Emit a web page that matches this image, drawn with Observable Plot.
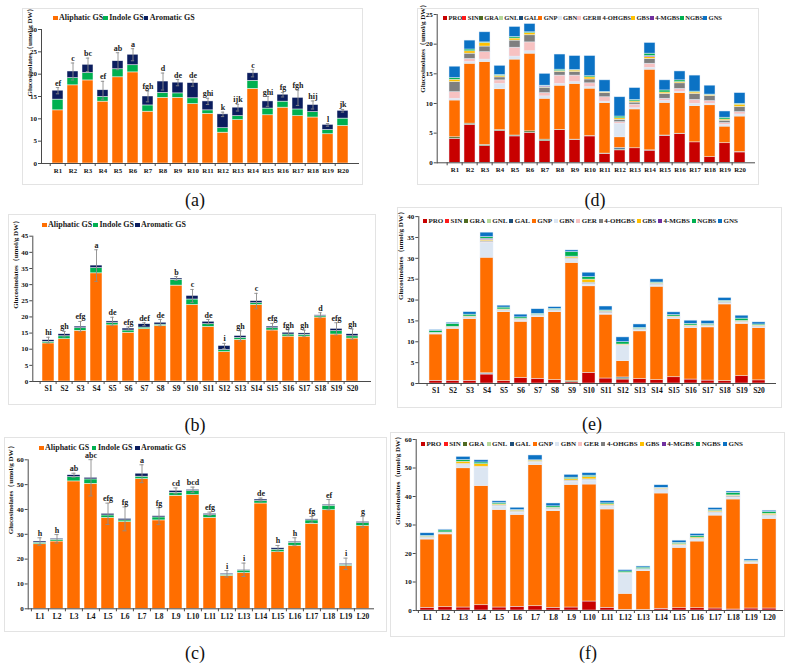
<!DOCTYPE html>
<html><head><meta charset="utf-8">
<script src="https://cdn.jsdelivr.net/npm/d3@7"></script>
<script src="https://cdn.jsdelivr.net/npm/@observablehq/plot@0.6"></script>
<style>
html,body{margin:0;padding:0;background:#fff;}
body{width:794px;height:663px;position:relative;overflow:hidden;font-family:"Liberation Serif","Times New Roman",serif;color:#111;}
.frame{position:absolute;border:1px solid #e3e3e3;box-sizing:border-box;}
.legend{position:absolute;display:flex;align-items:center;font-weight:bold;white-space:nowrap;color:#1a1a1a;line-height:1;}
.legend .item{display:flex;align-items:center;}
.legend .sw{display:inline-block;margin-right:1.5px;}
.cap{position:absolute;font-size:18px;transform:translateX(-50%);line-height:1;}
svg.pp{position:absolute;overflow:visible;}
</style></head><body>
<script>
// ---------- categories ----------
const catR = ["R1","R2","R3","R4","R5","R6","R7","R8","R9","R10","R11","R12","R13","R14","R15","R16","R17","R18","R19","R20"];
const catS = ["S1","S2","S3","S4","S5","S6","S7","S8","S9","S10","S11","S12","S13","S14","S15","S16","S17","S18","S19","S20"];
const catL = ["L1","L2","L3","L4","L5","L6","L7","L8","L9","L10","L11","L12","L13","L14","L15","L16","L17","L18","L19","L20"];

const groupNames = ["Aliphatic GS","Indole GS","Aromatic GS"];
const groupColors = ["#ff6e00","#00b050","#0b1d5e"];
const compounds = ["PRO","SIN","GRA","GNL","GAL","GNP","GBN","GER","4-OHGBS","GBS","4-MGBS","NGBS","GNS"];
const compoundColors = ["#c80000","#ff1a1a","#4f6b22","#b5d79a","#1f4e79","#ff6e00","#dce6f2","#f7c2c2","#7f7f7f","#ffc000","#7030a0","#00b050","#0b72c4"];
const yTitle = "Glucosinolates（umol/g DW）";

// ---------- (a) R group sums ----------
const aliphaticR = [11.9,17.5,18.6,13.85,19.3,20.4,11.6,14.7,14.7,13.3,11.1,6.9,9.7,16.7,10.8,12.5,10.6,10.3,6.55,8.4];
const indoleR    = [2.4,1.6,1.65,1.05,1.8,1.6,1.4,1.1,1.0,1.3,0.8,1.0,0.9,1.8,1.5,1.35,1.5,1.2,0.95,1.65];
const aromaticR  = [2.0,1.5,1.85,1.5,1.8,2.35,2.0,2.55,2.4,3.4,2.0,3.1,1.9,1.7,1.6,1.55,2.6,1.6,1.15,1.75];
const sdR        = [0.7,1.9,1.5,2.0,1.9,1.35,1.2,1.9,0.7,0.7,0.7,0.5,0.75,0.8,1.1,0.5,1.7,0.9,0.3,0.3];
const lettersR   = ["ef","c","bc","ef","ab","a","fgh","d","de","de","ghi","k","ijk","c","ghi","fg","fgh","hij","l","jk"];

// ---------- (b) S group sums ----------
const aliphaticS = [11.8,13.1,15.7,33.5,17.4,15.1,16.2,17.2,29.7,23.7,16.9,9.1,12.9,23.7,15.8,13.9,13.9,19.8,14.55,13.3];
const indoleS    = [0.5,0.9,0.8,1.6,0.7,0.7,0.5,0.4,1.8,1.7,0.85,0.6,0.6,0.55,0.7,0.65,0.55,0.4,1.05,0.7];
const aromaticS  = [0.5,0.65,0.5,0.8,0.5,0.6,1.05,0.6,0.4,1.1,0.75,1.3,0.6,0.65,0.5,0.55,0.45,0.3,0.7,0.65];
const sdS        = [0.9,0.85,1.6,4.9,1.3,0.5,0.45,1.0,0.6,2.0,0.7,0.8,1.6,2.4,1.0,0.9,1.0,0.8,1.9,1.6];
const lettersS   = ["hi","gh","efg","a","de","efg","def","de","b","c","de","i","gh","c","efg","fgh","gh","d","efg","gh"];

// ---------- (c) L group sums ----------
const aliphaticL = [26.0,27.1,51.3,50.3,36.6,34.9,52.2,35.6,45.5,45.8,36.6,13.2,14.4,42.4,22.8,25.4,34.2,39.7,17.2,33.3];
const indoleL    = [0.6,0.7,1.7,1.8,1.0,0.7,1.0,1.2,1.2,1.6,1.1,0.5,1.0,1.0,1.0,1.2,1.4,1.8,0.5,1.2];
const aromaticL  = [0.5,0.4,0.8,0.65,0.65,0.6,1.2,0.5,0.8,0.5,0.55,0.4,0.3,0.6,0.6,0.4,0.4,0.4,0.4,0.5];
const sdL        = [1.5,1.7,0.8,7.3,4.3,4.8,3.6,3.4,1.2,1.1,0.7,1.3,2.7,0.6,1.1,1.6,1.2,2.1,2.3,2.2];
const lettersL   = ["h","h","ab","abc","efg","fg","a","fg","cd","bcd","efg","i","i","de","h","h","fg","ef","i","g"];

// ---------- (d) R individual compounds ----------
const R_PRO   = [4.05,6.4,2.8,5.35,4.45,5.05,3.65,5.5,3.85,4.45,1.5,2.1,2.45,2.05,4.55,4.85,3.45,0.95,3.3,1.75];
const R_SIN   = [0,0,0,0,0,0,0,0,0,0,0,0,0,0,0,0,0,0,0,0];
const R_GRA   = [0.25,0.2,0.2,0.15,0.15,0.25,0.25,0.05,0.05,0.05,0.05,0.15,0,0.05,0.05,0.05,0,0,0,0.05];
const R_GNL   = [0,0,0,0,0,0,0,0,0,0,0,0,0,0,0,0,0,0,0,0];
const R_GAL   = [0,0,0,0,0,0,0,0,0,0,0,0.25,0,0,0,0,0,0,0,0];
const R_GNP   = [6.2,10.1,14.0,6.9,12.8,13.1,6.9,7.45,9.4,8.0,8.5,1.8,6.55,13.6,5.5,6.85,6.1,8.75,2.8,6.0];
const R_GBN   = [0.3,0.3,0.4,0.9,0.5,0.4,0.4,0.3,0.3,0.25,0.25,2.3,0.2,0.3,0.3,0.2,0.4,0.25,0.3,0.35];
const R_GER   = [1.1,0.5,1.25,0.6,1.5,1.5,0.55,1.4,1.1,0.65,0.75,0.25,0.6,0.7,0.4,0.5,0.65,0.45,0.3,0.4];
const R_OHGBS = [1.7,0.9,0.95,0.5,1.2,1.2,0.9,0.6,0.6,0.65,0.7,0.4,0.35,0.8,0.8,0.95,1.0,0.85,0.4,0.85];
const R_GBS   = [0.4,0.4,0.6,0.25,0.35,0.35,0.1,0.15,0.25,0.35,0.1,0.25,0.2,0.3,0.25,0.2,0.25,0.2,0.2,0.4];
const R_MGBS  = [0,0,0,0,0,0,0.15,0,0,0,0,0,0,0.2,0,0,0,0,0,0];
const R_NGBS  = [0.3,0.3,0.1,0.15,0.25,0.15,0.1,0.25,0.1,0.2,0.1,0.3,0.25,0.4,0.35,0.3,0.15,0.05,0.3,0.15];
const R_GNS   = [1.9,1.5,1.7,1.55,1.7,1.4,2.0,2.55,2.35,3.4,1.95,3.25,2.0,1.8,1.7,1.5,2.7,1.5,1.05,1.8];

// ---------- (e) S individual compounds ----------
const S_PRO   = [0.65,0.65,0.65,2.15,0.55,1.3,1.1,0.8,0.3,2.55,1.2,0.95,1.05,0.8,1.5,0.95,0.7,0.55,1.75,0.75];
const S_SIN   = [0,0,0,0,0,0,0,0,0,0,0,0,0,0,0,0,0,0,0,0];
const S_GRA   = [0,0,0,0.15,0,0,0,0,0.25,0,0,0.25,0,0,0,0,0,0,0,0];
const S_GNL   = [0,0,0,0,0,0,0,0,0,0,0,0,0,0,0,0,0,0,0,0];
const S_GAL   = [0,0,0,0.15,0,0,0,0,0,0,0,0.25,0,0,0,0,0,0,0,0];
const S_GNP   = [11.1,12.45,14.8,27.7,16.55,13.5,14.8,16.3,28.35,20.75,15.3,3.9,11.45,22.4,13.95,12.35,12.75,18.4,12.55,12.55];
const S_GBN   = [0.15,0.15,0.2,3.55,0.2,0.2,0.2,0.2,0.8,0.45,0.25,3.6,0.2,0.3,0.2,0.2,0.2,0.2,0.25,0.2];
const S_GER   = [0.1,0.15,0.1,0.2,0.15,0.15,0.15,0.15,0.2,0.1,0.15,0.15,0.15,0.15,0.1,0.1,0.1,0.15,0.15,0.1];
const S_OHGBS = [0,0.1,0.1,0.2,0.1,0.15,0.1,0.1,0.1,0.3,0.3,0.1,0.1,0.25,0.1,0.15,0.1,0.15,0.1,0.15];
const S_GBS   = [0.15,0.1,0.2,0.3,0.2,0.2,0.1,0.1,0.3,0.75,0.15,0.15,0.15,0.15,0.2,0.15,0.15,0.15,0.2,0.15];
const S_MGBS  = [0,0,0,0.3,0,0,0,0,0.1,0,0,0,0,0,0,0,0,0,0,0];
const S_NGBS  = [0.45,0.7,0.45,0.4,0.45,0.35,0.25,0.25,1.1,0.6,0.15,0.55,0.25,0.15,0.35,0.4,0.25,0.2,0.55,0.25];
const S_GNS   = [0.2,0.25,0.6,1.05,0.45,0.65,1.1,0.4,0.4,1.05,0.95,1.15,0.8,0.75,0.65,0.75,0.75,0.7,0.7,0.5];

// ---------- (f) L individual compounds ----------
const L_PRO   = [0.95,1.15,1.05,1.85,1.05,1.3,1.5,0.95,1.05,3.15,0.95,0.25,0.25,0.6,0.8,0.8,0.7,0.35,0.7,0.7];
const L_SIN   = [0,0,0,0,0,0,0,0,0,0,0,0,0,0,0,0,0,0,0,0];
const L_GRA   = [0,0,0,0,0,0,0,0,0,0,0,0,0,0,0,0,0,0,0,0];
const L_GNL   = [0,0,0,0,0,0,0,0,0,0,0,0,0,0,0,0,0,0,0,0];
const L_GAL   = [0,0,0,0,0,0,0,0,0,0,0,0,0,0,0,0,0,0,0,0];
const L_GNP   = [23.95,25.55,48.85,41.85,34.25,32.25,49.5,33.9,43.05,41.05,34.5,5.6,13.55,40.45,21.2,23.4,32.6,38.6,15.7,31.45];
const L_GBN   = [0.4,0.3,1.1,6.35,1.2,0.8,0.9,0.5,1.1,1.4,1.0,7.0,0.3,1.15,0.6,0.6,0.8,0.6,0.3,0.9];
const L_GER   = [0.2,0.2,0.2,0.2,0.2,0.2,0.2,0.2,0.2,0.2,0.2,0.2,0.2,0.2,0.2,0.2,0.2,0.2,0.2,0.2];
const L_OHGBS = [0.1,0.1,0.2,0.2,0.2,0.15,0.1,0.2,0.2,0.2,0.15,0.1,0.1,0.15,0.15,0.2,0.2,0.35,0.1,0.2];
const L_GBS   = [0.3,0.1,0.8,0.9,0.35,0.35,0.4,0.3,0.5,0.8,0.4,0.1,0.15,0.3,0.35,0.4,0.4,0.3,0.15,0.5];
const L_MGBS  = [0,0,0,0,0,0,0,0,0,0,0,0,0,0,0,0,0,0,0,0];
const L_NGBS  = [0.3,0.7,0.6,0.6,0.45,0.2,0.1,0.5,0.5,0.5,0.4,0.45,0.5,0.2,0.45,0.5,0.3,0.9,0.25,0.6];
const L_GNS   = [0.9,0.3,1.1,0.75,0.6,0.8,1.7,1.0,1.0,0.9,0.75,0.45,0.4,0.9,0.75,0.75,0.75,0.45,0.5,0.45];

const FONT = "'Liberation Serif','Times New Roman',serif";

function addDiv(cls, style, text) {
  const d = document.createElement("div");
  d.className = cls;
  Object.assign(d.style, style);
  if (text != null) d.textContent = text;
  document.body.appendChild(d);
  return d;
}

function legend(names, colors, left, right, cy, fontSize, sq) {
  const div = addDiv("legend", {left: left + "px", top: "0px", fontSize: fontSize + "px"});
  const items = names.map((n, i) => {
    const it = document.createElement("span");
    it.className = "item";
    const sw = document.createElement("span");
    sw.className = "sw";
    sw.style.width = sq + "px"; sw.style.height = sq + "px"; sw.style.background = colors[i];
    const tx = document.createElement("span");
    tx.textContent = n;
    it.appendChild(sw); it.appendChild(tx);
    div.appendChild(it);
    return it;
  });
  const w = div.getBoundingClientRect().width;
  const gap = Math.max(0, (right - left - w) / (names.length - 1));
  items.forEach((it, i) => { if (i < items.length - 1) it.style.marginRight = gap + "px"; });
  div.style.top = (cy - div.getBoundingClientRect().height / 2) + "px";
}

function panel(o) {
  const {left, top, width, height, ml, mr, mt, mb, inL = 0, inR = 0, cats, names, colors, series, ymax, ystep, sd, letters, titleDx, titleDy = 0, strokeC, xFont = 7.5} = o;
  const rows = [];
  names.forEach((n, j) => series[j].forEach((v, i) => { if (v > 0) rows.push({cat: cats[i], name: n, v}); }));
  const totals = cats.map((c, i) => d3.sum(series, s => s[i]));
  const step = (width - ml - mr - inL - inR) / cats.length;
  const marks = [
    Plot.barY(rows, Plot.stackY({x: "cat", y: "v", fill: "name", stroke: strokeC, strokeWidth: 0.6, strokeOpacity: 0.8})),
    Plot.frame({anchor: "left", stroke: "#4a4a4a"}),
    Plot.frame({anchor: "bottom", stroke: "#4a4a4a"}),
    Plot.axisY({ticks: d3.range(0, ymax + 0.001, ystep), tickSize: 3, tickPadding: 1.5, fontSize: 7, fontWeight: "bold", label: null, stroke: "#4a4a4a"}),
    Plot.axisX({tickSize: 0, tickPadding: 4.5, fontSize: xFont, fontWeight: "bold", label: null}),
    Plot.axisX({tickSize: 3, fill: "none", dx: -step / 2, label: null, stroke: "#4a4a4a"}),
    Plot.text([yTitle], {frameAnchor: "left", rotate: -90, dx: titleDx, dy: titleDy, fontSize: 7, fontWeight: "bold", fill: "#111"})
  ];
  if (sd) {
    const err = cats.map((c, i) => ({cat: c, lo: totals[i] - sd[i], hi: totals[i] + sd[i], letter: letters[i]}));
    const capInset = Math.max(0, (step * 0.75 - 4) / 2);
    marks.push(
      Plot.ruleX(err, {x: "cat", y1: "lo", y2: "hi", stroke: "#8c8c8c", strokeWidth: 0.9}),
      Plot.tickY(err, {x: "cat", y: "hi", stroke: "#8c8c8c", strokeWidth: 0.9, inset: capInset}),
      Plot.tickY(err, {x: "cat", y: "lo", stroke: "#8c8c8c", strokeWidth: 0.9, inset: capInset}),
      Plot.text(err, {x: "cat", y: "hi", text: "letter", dy: -2, lineAnchor: "bottom", fontSize: 8, fontWeight: "bold", fill: "#222"})
    );
  }
  const svg = Plot.plot({
    width, height, marginLeft: ml, marginRight: mr, marginTop: mt, marginBottom: mb,
    x: {domain: cats, paddingInner: 0.25, paddingOuter: 0.125, insetLeft: inL, insetRight: inR},
    y: {domain: [0, ymax]},
    color: {domain: names, range: colors},
    style: {fontFamily: FONT, background: "transparent", color: "#111"},
    marks
  });
  svg.classList.add("pp");
  svg.style.left = left + "px";
  svg.style.top = top + "px";
  document.body.appendChild(svg);
}

// frames
[[22,8,363,185],[8,214,376,405],[4,437,387,632],[417,8,759,185],[397,207,782,408],[390,432,785,637]].forEach(([x0,y0,x1,y1]) => {
  addDiv("frame", {left: x0 + "px", top: y0 + "px", width: (x1 - x0) + "px", height: (y1 - y0) + "px"});
});

// (a)
panel({left: 22, top: 8, width: 341, height: 177, ml: 19, mr: 5, mt: 21, mb: 22, inL: 3.2, inR: 2.2,
  cats: catR, names: groupNames, colors: groupColors, series: [aliphaticR, indoleR, aromaticR],
  ymax: 30, ystep: 5, sd: sdR, letters: lettersR, titleDx: -12, strokeC: "#ffffff", xFont: 6.8});
// (b)
panel({left: 8, top: 214, width: 368, height: 191, ml: 24.3, mr: 6, mt: 21.7, mb: 24, inL: 0.1, inR: 2.1,
  cats: catS, names: groupNames, colors: groupColors, series: [aliphaticS, indoleS, aromaticS],
  ymax: 45, ystep: 5, sd: sdS, letters: lettersS, titleDx: -17, strokeC: "#ffffff"});
// (c)
panel({left: 4, top: 437, width: 383, height: 195, ml: 23.7, mr: 14, mt: 22.3, mb: 23.7, inL: 1.2, inR: 0,
  cats: catL, names: groupNames, colors: groupColors, series: [aliphaticL, indoleL, aromaticL],
  ymax: 60, ystep: 10, sd: sdL, letters: lettersL, titleDx: -17.7, strokeC: "#ffffff"});
// (d)
panel({left: 417, top: 8, width: 342, height: 177, ml: 19.7, mr: 5, mt: 6, mb: 22.7, inL: 3.2, inR: 0,
  cats: catR, names: compounds, colors: compoundColors,
  series: [R_PRO,R_SIN,R_GRA,R_GNL,R_GAL,R_GNP,R_GBN,R_GER,R_OHGBS,R_GBS,R_MGBS,R_NGBS,R_GNS],
  ymax: 25, ystep: 5, titleDx: -14.5, titleDy: 4, strokeC: "#e8f0fa", xFont: 6.8});
// (e)
panel({left: 397, top: 207, width: 385, height: 201, ml: 21.3, mr: 7, mt: 9.1, mb: 25, inL: 0.3, inR: 0,
  cats: catS, names: compounds, colors: compoundColors,
  series: [S_PRO,S_SIN,S_GRA,S_GNL,S_GAL,S_GNP,S_GBN,S_GER,S_OHGBS,S_GBS,S_MGBS,S_NGBS,S_GNS],
  ymax: 40, ystep: 5, titleDx: -18, strokeC: "#e8f0fa"});
// (f)
panel({left: 390, top: 432, width: 395, height: 205, ml: 25.7, mr: 3, mt: 7, mb: 27, inL: 0.2, inR: 1.7,
  cats: catL, names: compounds, colors: compoundColors,
  series: [L_PRO,L_SIN,L_GRA,L_GNL,L_GAL,L_GNP,L_GBN,L_GER,L_OHGBS,L_GBS,L_MGBS,L_NGBS,L_GNS],
  ymax: 60, ystep: 10, titleDx: -18.7, strokeC: "#e8f0fa"});

// legends
legend(groupNames, groupColors, 53, 187, 18, 8, 4.5);
legend(groupNames, groupColors, 42, 186, 225, 8, 4.5);
legend(groupNames, groupColors, 39, 186, 448, 8, 4.5);
legend(compounds, compoundColors, 443, 722, 18, 6.5, 4);
legend(compounds, compoundColors, 423, 738, 221, 7, 4);
legend(compounds, compoundColors, 421, 743, 444, 7, 4);

// captions
[["(a)",195,200],["(b)",195,425],["(c)",195,653],["(d)",595,200],["(e)",592,424],["(f)",588,653]].forEach(([t,x,y]) => {
  addDiv("cap", {left: x + "px", top: (y - 9) + "px"}, t);
});
</script>
</body></html>
